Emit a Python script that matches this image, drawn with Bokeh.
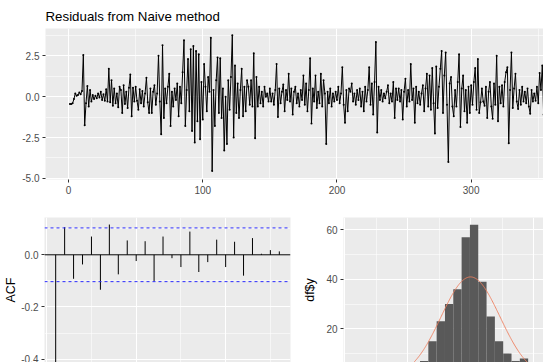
import numpy as np
from bokeh.plotting import figure
from bokeh.models import FixedTicker, PrintfTickFormatter, Range1d, Grid, Span
from bokeh.layouts import column, row
from bokeh.embed import file_html
from bokeh.resources import INLINE

# ---------------- data ----------------
resid = [
    -0.45, -0.45, -0.40, -0.15, 0.20, 0.05, 0.10, 0.25, 0.15, 0.35,
    2.55, -1.75, -0.40, 0.65, -0.60, 0.40, -0.30, 0.10, -0.15, 0.05,
    -0.10, 0.20, -0.05, 0.30, -0.20, 0.15, -0.25, 0.45, -0.30, 1.70,
    -0.35, 1.00, -0.55, 0.50, -0.40, 0.20, -0.65, 0.60, 0.40, -1.00,
    0.70, -0.45, 0.30, -0.70, 0.55, 1.35, -1.20, 0.55, -0.30, 0.60,
    -0.25, -0.80, 0.45, -0.40, 0.35, -0.60, 0.20, 1.15, -0.35, -1.00,
    0.50, -1.00, 0.30, 0.70, -0.50, 0.20, 2.50, -0.30, -2.30, 3.15,
    -1.30, 0.50, -0.40, 0.60, 1.40, -1.80, 0.30, -0.60, 0.50, -0.20,
    0.80, -1.20, 0.60, -0.40, 1.50, 3.45, -1.80, 0.40, 2.30, -0.90,
    2.90, -2.10, 3.10, -2.80, 2.80, -1.50, 2.60, -2.60, 0.90, -1.40,
    2.00, 0.60, -0.90, 1.20, 0.30, 3.60, -4.55, 0.40, -1.80, 1.00,
    2.40, -1.00, 2.35, -1.30, 0.50, -3.30, 0.00, -2.90, 1.00, -0.80,
    1.20, 3.75, -2.50, 1.90, -1.00, 0.80, -1.30, 0.40, 1.70, -1.20,
    0.60, -0.90, 1.00, 0.60, -0.50, 1.00, -0.60, 2.65, -2.55, 1.20,
    -0.60, 0.60, -0.40, 0.30, -0.60, 0.60, 0.00, 0.20, -0.30, 0.50,
    -0.30, 0.20, -0.50, 0.40, 2.00, -1.25, 0.50, -0.40, 0.30, 0.75,
    -0.90, 0.40, -0.20, 1.40, -0.30, 0.50, -1.10, 0.30, 0.60, -0.40,
    0.20, -0.60, 0.40, -0.20, 1.30, -0.50, 0.80, -0.90, 0.40, 2.35,
    -1.65, 0.50, -0.30, 1.30, -0.70, 0.30, -0.40, 1.40, -0.60, 1.00,
    0.20, -2.90, 0.30, -0.40, 0.50, -0.60, 0.20, -0.30, 0.30, -0.20,
    0.60, -0.40, 0.20, 1.80, -0.50, -1.60, 0.40, -0.90, 0.50, 0.30,
    0.80, -0.30, 0.20, -0.50, 0.40, -0.20, 0.50, -0.60, 0.30, -0.90,
    0.60, -0.30, 0.40, 1.80, -0.50, 0.80, -1.10, 0.90, 3.35, -2.20,
    0.60, -0.20, 0.40, -0.30, 0.20, -0.10, 0.30, 0.70, -0.40, 0.20,
    -0.30, 0.90, -1.30, 0.50, -0.20, 0.50, -0.30, 0.40, -1.40, 0.30,
    1.10, -0.60, 0.40, -0.30, 2.00, -0.20, 0.50, -1.60, 0.60, -0.40,
    0.30, -0.50, 0.20, 0.70, -0.90, 0.50, 1.40, -0.60, 1.30, -0.80,
    1.75, -0.40, -2.25, 1.85, -0.70, 0.60, 1.70, 2.80, -1.00, 1.30,
    2.70, -0.50, -4.00, 0.80, 1.20, -0.60, -1.20, 0.40, -0.60, 0.90,
    2.60, -1.85, 0.50, 1.30, -0.90, 0.40, -1.60, 0.60, -1.00, 0.70,
    -0.50, 0.90, 1.75, -0.80, 2.30, -1.00, -0.35, 0.50, -0.30, -0.55,
    0.60, -1.30, 0.30, 0.90, -0.60, -1.35, 0.80, -0.50, 2.50, -1.50,
    0.60, -0.40, 0.70, -0.60, 0.90, 1.50, 1.80, -2.85, 0.40, 2.70,
    -0.70, 0.50, 1.40, -0.30, -0.75, 0.40, -0.50, 0.60, -0.30, 0.30,
    -0.40, 0.50, -0.60, -1.05, 0.40, -0.30, 0.20, -0.25, 0.60, -0.40,
    1.45, 0.40, 1.90, -1.10, 0.40, -0.60, 0.50, -0.30,
]
resid_time = list(range(1, len(resid) + 1))

acf_lags = list(range(1, 27))
acf_values = [-0.48, 0.106, -0.092, -0.037, 0.070, -0.134, 0.116, -0.075, 0.055, -0.024,
              0.052, -0.101, 0.070, -0.013, -0.047, 0.089, -0.066, -0.028, 0.058, -0.047,
              0.050, -0.080, 0.064, 0.004, 0.018, 0.013]
acf_ci = 0.103

hist_bin_start = -4.644
hist_bin_width = 0.33
hist_counts = [1, 1, 0, 1, 2, 3, 4, 5,
               7, 15, 23, 30, 36, 57, 62, 39, 25, 15, 10, 7, 8,
               5, 3, 3, 2, 2]
normal_mean = 0.0
normal_sd = 1.17
n_obs = 364

FONT = "Liberation Sans"
BG = "#EBEBEB"


def drop_xgrid(p):
    p.center = [r for r in p.center if not (isinstance(r, Grid) and r.dimension == 0)]


def style(p, label_standoff=4):
    p.background_fill_color = BG
    p.border_fill_color = "white"
    p.outline_line_color = None
    for ax in p.axis:
        ax.axis_line_color = None
        ax.major_tick_line_color = "#333333"
        ax.major_tick_out = 3
        ax.major_tick_in = 0
        ax.minor_tick_line_color = None
        ax.major_label_text_color = "#4D4D4D"
        ax.major_label_text_font = FONT
        ax.major_label_text_font_size = "10px"
        ax.major_label_standoff = 2
        ax.axis_label_text_font = FONT
        ax.axis_label_text_font_size = "12.5px"
        ax.axis_label_text_font_style = "normal"
        ax.axis_label_text_color = "black"
        ax.axis_label_standoff = label_standoff
    for g in p.center:
        if isinstance(g, Grid):
            g.grid_line_color = "white"
            g.grid_line_width = 1.1
            g.minor_grid_line_color = "white"
            g.minor_grid_line_width = 0.55


# ---------------- top: residual time plot ----------------
p1 = figure(width=543, height=200, output_backend="svg", toolbar_location=None,
            x_range=Range1d(-17.2, 353.9), y_range=Range1d(-5.07, 4.17),
            min_border_left=45, min_border_right=0, min_border_top=28, min_border_bottom=21)
p1.title.text = "Residuals from Naive method"
p1.title.text_font = FONT
p1.title.text_font_size = "13.3px"
p1.title.text_font_style = "normal"
p1.title.text_color = "black"
p1.title.align = "left"
p1.xaxis.ticker = FixedTicker(ticks=[0, 100, 200, 300], minor_ticks=[50, 150, 250, 350])
p1.yaxis.ticker = FixedTicker(ticks=[-5, -2.5, 0, 2.5], minor_ticks=[-3.75, -1.25, 1.25, 3.75])
p1.yaxis.formatter = PrintfTickFormatter(format="%.1f")
style(p1)
p1.line(resid_time, resid, line_color="black", line_width=1.0)
p1.scatter(resid_time, resid, size=2, fill_color="black", line_color=None)

# ---------------- bottom-left: ACF ----------------
p2 = figure(width=300, height=162, output_backend="svg", toolbar_location=None,
            x_range=Range1d(-0.25, 27.25), y_range=Range1d(-0.413, 0.143),
            x_axis_location=None,
            min_border_left=44, min_border_right=10, min_border_top=17, min_border_bottom=0)
p2.yaxis.ticker = FixedTicker(ticks=[-0.4, -0.2, 0.0], minor_ticks=[-0.3, -0.1, 0.1])
p2.yaxis.formatter = PrintfTickFormatter(format="%.1f")
p2.yaxis.axis_label = "ACF"
drop_xgrid(p2)
p2.add_layout(Grid(dimension=0, ticker=FixedTicker(ticks=[0, 10, 20], minor_ticks=[5, 15, 25])))
style(p2, label_standoff=0)
p2.segment(x0=acf_lags, y0=0, x1=acf_lags, y1=acf_values, line_color="black", line_width=1)
p2.add_layout(Span(location=0, dimension="width", line_color="black", line_width=1))
for s in (acf_ci, -acf_ci):
    p2.add_layout(Span(location=s, dimension="width", line_color="#2B2BFF",
                       line_dash="3 3", line_width=1))

# ---------------- bottom-right: histogram ----------------
p3 = figure(width=243, height=162, output_backend="svg", toolbar_location=None,
            x_range=Range1d(-5.04, 2.895), y_range=Range1d(6.38, 64.97),
            x_axis_location=None,
            min_border_left=32, min_border_right=0, min_border_top=17, min_border_bottom=0)
p3.yaxis.ticker = FixedTicker(ticks=[0, 20, 40, 60], minor_ticks=[10, 30, 50])
p3.yaxis.axis_label = "df$y"
drop_xgrid(p3)
p3.add_layout(Grid(dimension=0, ticker=FixedTicker(ticks=[-5, -2.5, 0, 2.5],
                                                    minor_ticks=[-3.75, -1.25, 1.25, 3.75])))
style(p3, label_standoff=6)
edges = [hist_bin_start + hist_bin_width * i for i in range(len(hist_counts) + 1)]
p3.quad(left=edges[:-1], right=edges[1:], bottom=0, top=hist_counts,
        fill_color="#595959", line_color=None)
xs = np.linspace(edges[0] - 0.5, edges[-1] + 0.5, 400)
ys = n_obs * hist_bin_width * np.exp(-0.5 * ((xs - normal_mean) / normal_sd) ** 2) / (normal_sd * np.sqrt(2 * np.pi))
p3.line(xs, ys, line_color="#EE8060", line_width=0.9)

layout = column(p1, row(p2, p3))
open("out.html", "w").write(file_html(layout, INLINE))
